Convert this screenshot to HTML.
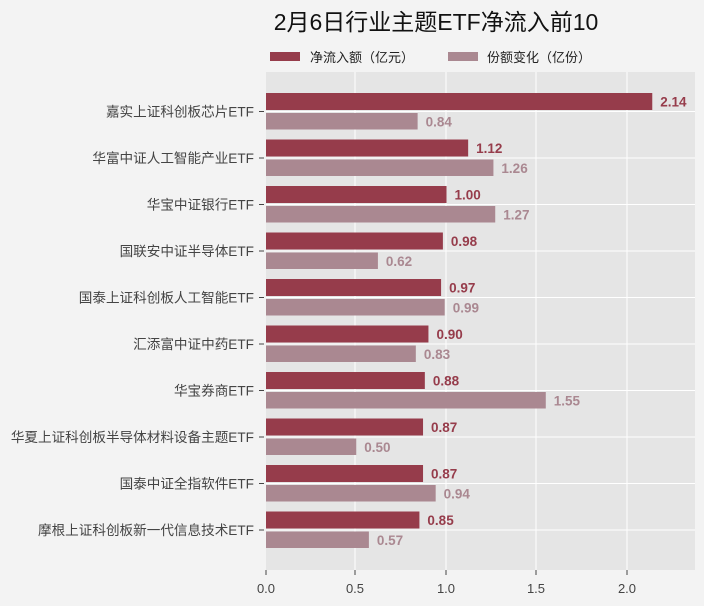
<!DOCTYPE html>
<html><head><meta charset="utf-8"><style>
html,body{margin:0;padding:0;background:#f3f3f3;overflow:hidden;}
svg{display:block;}
svg text{font-family:"Liberation Sans","Noto Sans CJK SC",sans-serif;}
</style></head><body>
<svg width="704" height="606" viewBox="0 0 704 606" xmlns="http://www.w3.org/2000/svg">
<rect width="704" height="606" fill="#f3f3f3"/>
<text x="436" y="30" font-size="23" text-anchor="middle" fill="#111">2月6日行业主题ETF净流入前10</text>
<rect x="270" y="52" width="30" height="9" fill="#963c4b"/>
<text x="310" y="62" font-size="13" fill="#222">净流入额（亿元）</text>
<rect x="448" y="52" width="30" height="9" fill="#aa8891"/>
<text x="487" y="62" font-size="13" fill="#222">份额变化（亿份）</text>
<rect x="266" y="72" width="429" height="498" fill="#e5e5e5"/>
<g stroke="#fff" stroke-width="1">
<line x1="355" y1="72" x2="355" y2="570"/><line x1="446" y1="72" x2="446" y2="570"/>
<line x1="536" y1="72" x2="536" y2="570"/><line x1="627" y1="72" x2="627" y2="570"/>
</g>
<g id="bars"></g>
<g font-size="13" fill="#444" text-anchor="middle">
<text x="266" y="593">0.0</text><text x="355" y="593">0.5</text><text x="446" y="593">1.0</text><text x="536" y="593">1.5</text><text x="627" y="593">2.0</text>
</g>
<g stroke="#444"><line x1="266" y1="570" x2="266" y2="575"/><line x1="355" y1="570" x2="355" y2="575"/><line x1="446" y1="570" x2="446" y2="575"/><line x1="536" y1="570" x2="536" y2="575"/><line x1="627" y1="570" x2="627" y2="575"/></g>
</svg>
<script>
var d=[["嘉实上证科创板芯片ETF",2.14,0.84],["华富中证人工智能产业ETF",1.12,1.26],["华宝中证银行ETF",1.00,1.27],["国联安中证半导体ETF",0.98,0.62],["国泰上证科创板人工智能ETF",0.97,0.99],["汇添富中证中药ETF",0.90,0.83],["华宝券商ETF",0.88,1.55],["华夏上证科创板半导体材料设备主题ETF",0.87,0.50],["国泰中证全指软件ETF",0.87,0.94],["摩根上证科创板新一代信息技术ETF",0.85,0.57]];
var s="",k=180.5;
d.forEach(function(r,i){var c=111.5+i*46.5;
s+='<line x1="266" y1="'+c+'" x2="695" y2="'+c+'" stroke="#fff"/>';
s+='<rect x="266" y="'+(c-18.5)+'" width="'+(r[1]*k)+'" height="17" fill="#963c4b"/>';
s+='<rect x="266" y="'+(c+1.5)+'" width="'+(r[2]*k)+'" height="16.5" fill="#aa8891"/>';
s+='<text x="'+(266+r[1]*k+8)+'" y="'+(c-5)+'" font-size="13.5" font-weight="bold" fill="#963c4b">'+r[1].toFixed(2)+'</text>';
s+='<text x="'+(266+r[2]*k+8)+'" y="'+(c+15)+'" font-size="13.5" font-weight="bold" fill="#aa8891">'+r[2].toFixed(2)+'</text>';
s+='<line x1="259" y1="'+c+'" x2="264" y2="'+c+'" stroke="#444"/>';
s+='<text x="254" y="'+(c+5)+'" font-size="13.6" fill="#444" text-anchor="end">'+r[0]+'</text>';
});
document.getElementById("bars").innerHTML=s;
</script>
</body></html>
